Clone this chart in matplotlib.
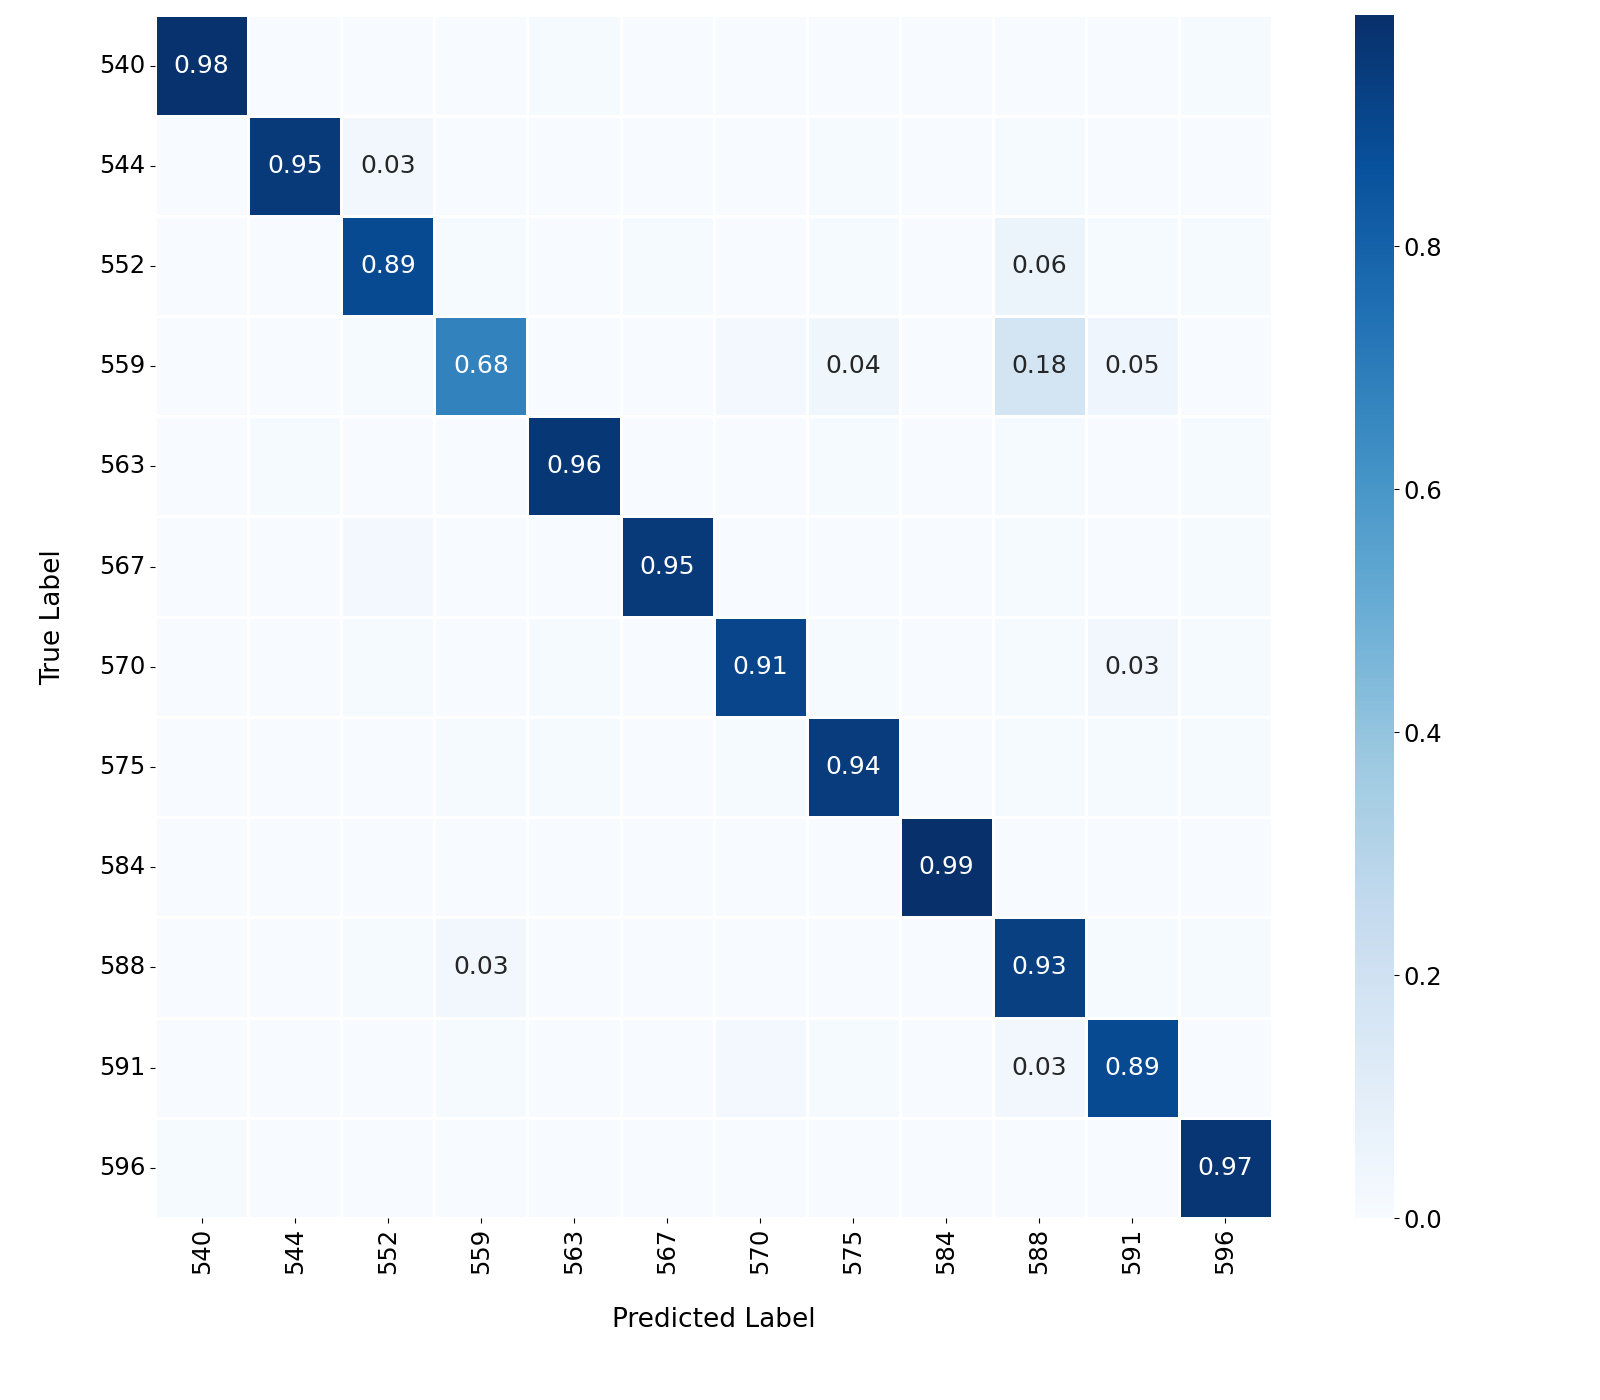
import numpy as np
import matplotlib
matplotlib.use("Agg")
import matplotlib.pyplot as plt
import seaborn as sns

labels = ["540", "544", "552", "559", "563", "567", "570", "575", "584", "588", "591", "596"]

# rows = true label, cols = predicted label (normalised)
row_540 = [0.98, 0.00, 0.00, 0.00, 0.01, 0.00, 0.00, 0.00, 0.00, 0.00, 0.00, 0.01]
row_544 = [0.00, 0.95, 0.03, 0.00, 0.00, 0.00, 0.00, 0.01, 0.00, 0.01, 0.00, 0.00]
row_552 = [0.00, 0.00, 0.89, 0.01, 0.00, 0.01, 0.00, 0.01, 0.00, 0.06, 0.01, 0.01]
row_559 = [0.00, 0.00, 0.01, 0.68, 0.00, 0.00, 0.02, 0.04, 0.00, 0.18, 0.05, 0.00]
row_563 = [0.00, 0.01, 0.00, 0.00, 0.96, 0.00, 0.00, 0.01, 0.00, 0.01, 0.00, 0.01]
row_567 = [0.00, 0.00, 0.02, 0.00, 0.00, 0.95, 0.00, 0.00, 0.00, 0.01, 0.00, 0.01]
row_570 = [0.00, 0.00, 0.01, 0.00, 0.01, 0.00, 0.91, 0.01, 0.00, 0.01, 0.03, 0.01]
row_575 = [0.00, 0.00, 0.00, 0.01, 0.01, 0.00, 0.01, 0.94, 0.00, 0.01, 0.01, 0.01]
row_584 = [0.00, 0.00, 0.00, 0.00, 0.00, 0.00, 0.00, 0.00, 0.99, 0.00, 0.00, 0.00]
row_588 = [0.00, 0.00, 0.01, 0.03, 0.00, 0.00, 0.00, 0.00, 0.00, 0.93, 0.01, 0.01]
row_591 = [0.00, 0.00, 0.00, 0.01, 0.00, 0.00, 0.02, 0.01, 0.00, 0.03, 0.89, 0.00]
row_596 = [0.01, 0.00, 0.00, 0.00, 0.00, 0.00, 0.00, 0.00, 0.00, 0.00, 0.00, 0.97]

cm = np.array([row_540, row_544, row_552, row_559, row_563, row_567,
               row_570, row_575, row_584, row_588, row_591, row_596])

# only label cells worth reading
annot = np.where(cm >= 0.025, np.vectorize(lambda v: f"{v:.2f}")(cm), "")

fig = plt.figure(figsize=(16, 14), dpi=100)
ax = fig.add_axes([0.097, 0.130, 0.698, 0.859])
cax = fig.add_axes([0.847, 0.130, 0.024, 0.859])

sns.heatmap(cm, annot=annot, fmt="", cmap="Blues", linewidths=2, linecolor="white",
            xticklabels=labels, yticklabels=labels, ax=ax, cbar_ax=cax,
            annot_kws={"fontsize": 18})

ax.set_xlabel("Predicted Label", fontsize=19, labelpad=24)
ax.set_ylabel("True Label", fontsize=19, labelpad=24)
ax.tick_params(axis="both", labelsize=17.5)
plt.setp(ax.get_xticklabels(), rotation=90)
plt.setp(ax.get_yticklabels(), rotation=0)
cax.tick_params(labelsize=17.5)
cax.set_frame_on(False)

fig.savefig("out.png", dpi=100)
